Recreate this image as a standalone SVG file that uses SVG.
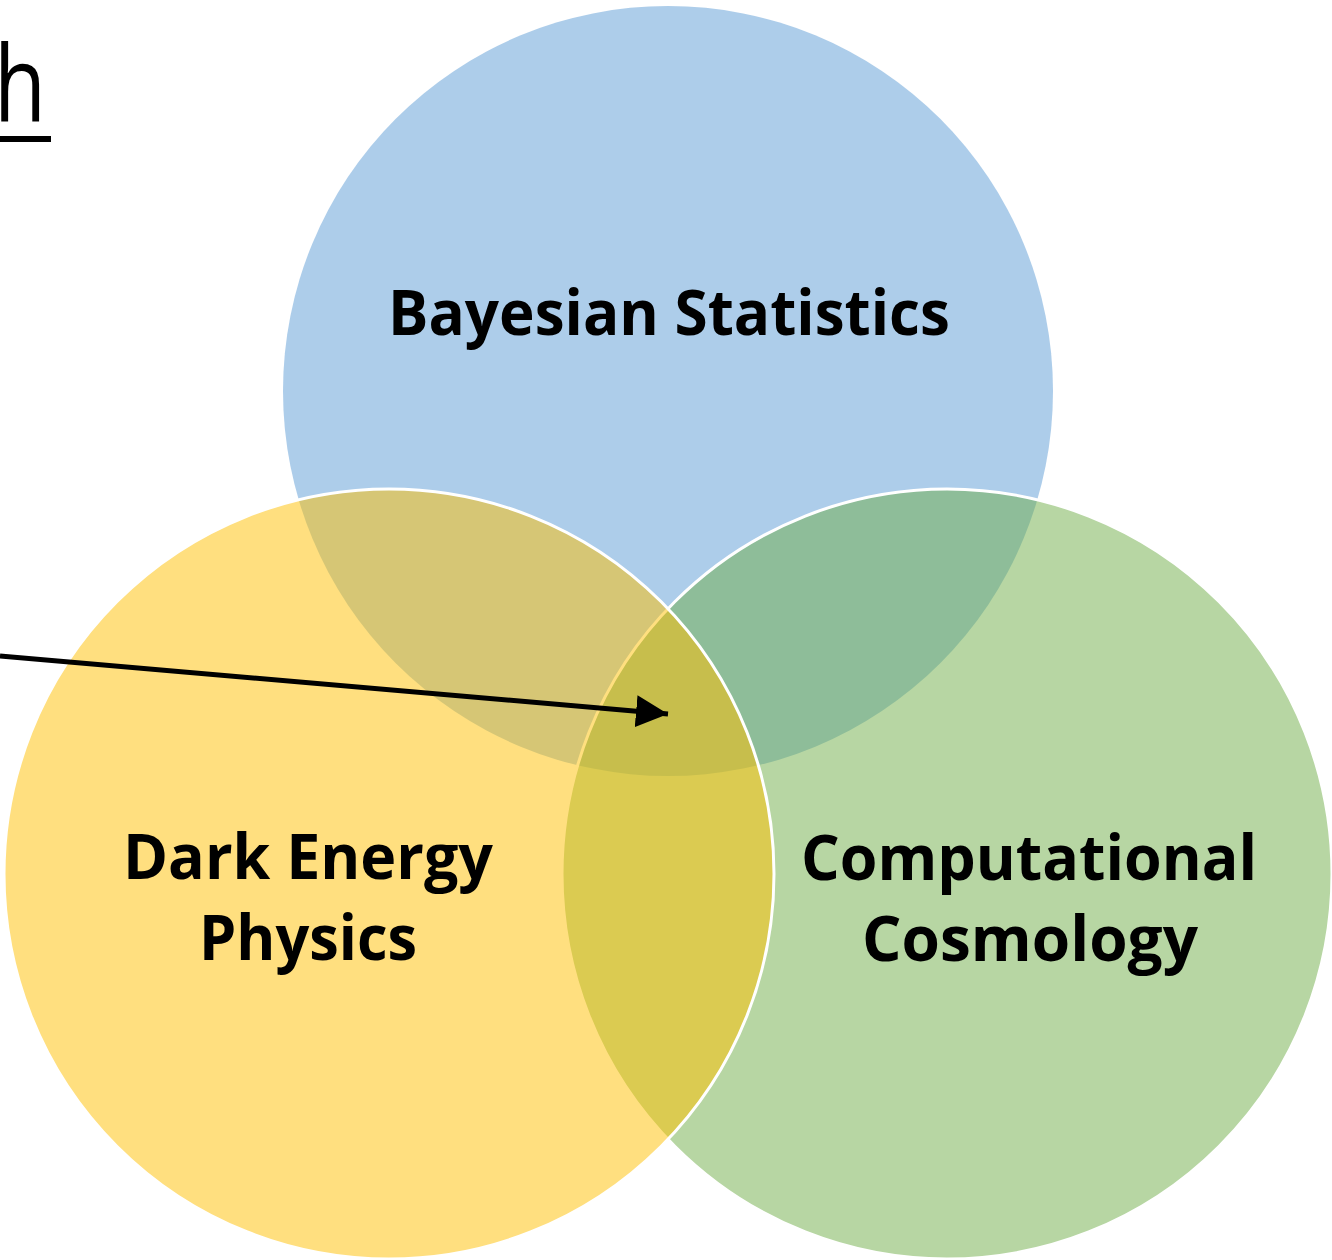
<svg xmlns="http://www.w3.org/2000/svg" width="1332" height="1260" viewBox="0 0 1332 1260">
<style>
.c{fill-opacity:0.5}
.s{stroke:#ffffff;stroke-width:3}
.lbl{font-family:"Open Sans","Lato","Liberation Sans",sans-serif;font-weight:700;font-size:62px;fill:#000000;text-anchor:middle}
.ttl{font-family:"Open Sans","Lato","Liberation Sans",sans-serif;font-weight:400;font-size:106px;fill:#000000}
</style>
<defs>
<marker id="ah" markerUnits="userSpaceOnUse" markerWidth="32" markerHeight="32" viewBox="0 0 30 30" refX="30" refY="15" orient="auto">
<path d="M0,0 L30,15 L0,30 Z" fill="#000000"/>
</marker>
</defs>
<rect width="1332" height="1260" fill="#ffffff"/>
<g id="title">
<text class="ttl" x="-6" y="122" textLength="52" lengthAdjust="spacingAndGlyphs">h</text>
<rect x="0" y="136" width="51" height="6" fill="#000000"/>
</g>
<g id="bayesian">
<circle class="c" cx="668" cy="391" r="385" fill="#5B9BD5"/>
<text class="lbl" x="669" y="335" textLength="562" lengthAdjust="spacingAndGlyphs">Bayesian Statistics</text>
</g>
<g id="computational">
<circle class="c s" cx="947" cy="874" r="385" fill="#70AD47"/>
<text class="lbl" x="1029" y="880" textLength="456" lengthAdjust="spacingAndGlyphs">Computational</text>
<text class="lbl" x="1030" y="961" textLength="336" lengthAdjust="spacingAndGlyphs">Cosmology</text>
</g>
<g id="darkenergy">
<circle class="c s" cx="389" cy="874" r="385" fill="#FFC000"/>
<text class="lbl" x="308" y="879" textLength="370" lengthAdjust="spacingAndGlyphs">Dark Energy</text>
<text class="lbl" x="308" y="960" textLength="218" lengthAdjust="spacingAndGlyphs">Physics</text>
</g>
<g id="connectors">
<line x1="0" y1="656" x2="668" y2="714" stroke="#000000" stroke-width="5" marker-end="url(#ah)"/>
</g>
</svg>
